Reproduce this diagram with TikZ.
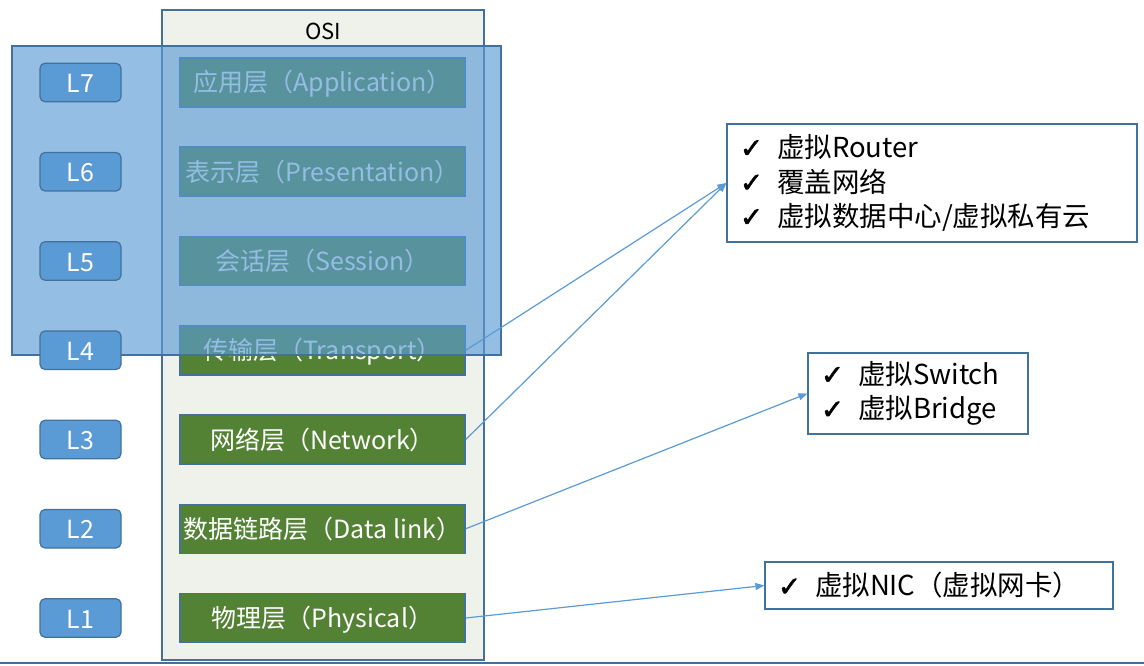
\documentclass[tikz,border=0pt]{standalone}
\usepackage{fontspec}
\setmainfont{Noto Sans CJK SC}
\newfontfamily\tickfont[FakeBold=2]{DejaVu Sans}
\usepackage{tikz}
\usetikzlibrary{arrows.meta,positioning}
\definecolor{osiline}{RGB}{65,113,156}
\definecolor{osiback}{RGB}{239,242,234}
\definecolor{layergreen}{RGB}{84,130,53}
\definecolor{lblue}{RGB}{91,155,213}
\tikzstyle{arrow} = [line width=1.2pt,-{Triangle[length=9pt,width=7pt]},color=lblue]
\tikzstyle{layer} = [draw=osiline, line width=1.5pt, fill=layergreen, text=white, minimum width=285pt, minimum height=49pt, inner sep=0pt, text height=24pt, text depth=5pt, font=\fontsize{25}{28}\selectfont]
\tikzstyle{lvl} = [draw=osiline, line width=1.2pt, fill=lblue, text=white, rounded corners=5pt, minimum width=81pt, minimum height=38.5pt, inner sep=0pt, text height=20pt, text depth=0pt, font=\fontsize{25}{28}\selectfont]
\tikzstyle{listbox} = [draw=osiline, line width=1.2pt, fill=white, inner xsep=13pt, inner ysep=0pt, align=left, font=\fontsize{27.5}{34.5}\selectfont]
\newcommand{\chk}{\makebox[37pt][l]{\tickfont ✓}}

\begin{document}
\begin{tikzpicture}[x=1pt,y=-1pt]
\useasboundingbox (0,0) rectangle (1144,666);

% OSI column
\node[draw=osiline, line width=1.5pt, fill=osiback, minimum width=322pt, minimum height=650pt] (osi) at (323,335) {};
\node[font=\fontsize{22}{26}\selectfont] (osilabel) at (323,31) {OSI};

% Layers
\foreach \i/\txt in {7/应用层（Application）, 6/表示层（Presentation）, 5/会话层（Session）, 4/传输层（Transport）, 3/网络层（Network）, 2/数据链路层（Data link）, 1/物理层（Physical）}
  \node[layer] (g\i) at (322.5,{82.5+(7-\i)*89.25}) {\txt};

% Upper layers shading
\node[draw=osiline, line width=1.5pt, fill=lblue, fill opacity=0.65, minimum width=489pt, minimum height=309pt] (upper) at (256.5,200.5) {};

% Level tags
\foreach \i in {7,...,1}
  \node[lvl] (l\i) at (80.5,{82.5+(7-\i)*89.25}) {L\i};

% Virtual devices
\node[listbox, text width=384pt, minimum height=118pt] (r3) at (932,183) {\chk 虚拟Router\\ \chk 覆盖网络\\ \chk 虚拟数据中心/虚拟私有云};
\node[listbox, text width=194pt, minimum height=81pt] (r2) at (918,393.5) {\chk 虚拟Switch\\ \chk 虚拟Bridge};
\node[listbox, text width=322pt, minimum height=47pt] (r1) at (939,585.5) {\chk 虚拟NIC（虚拟网卡）};

% Arrows
\draw[arrow] (g4.east) -- (r3.west);
\draw[arrow] (g3.east) -- (r3.west);
\draw[arrow] (g2.east) -- (r2.west);
\draw[arrow] (g1.east) -- (r1.west);

% Bottom rule
\draw[osiline, line width=1.2pt] (0,663) -- (1144,663);
\end{tikzpicture}
\end{document}
